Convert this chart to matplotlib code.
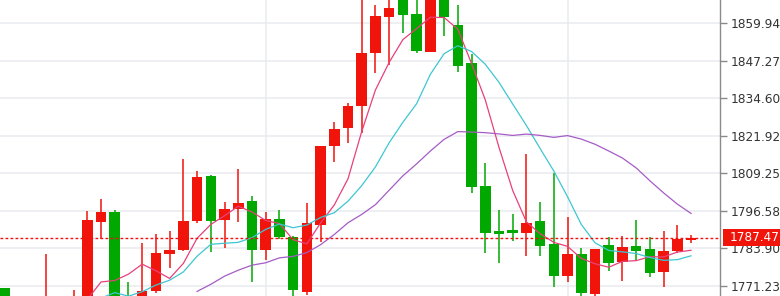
import numpy as np
import pandas as pd
import matplotlib
matplotlib.use('Agg')
from matplotlib import pyplot as plt
from matplotlib.patches import Rectangle
import matplotlib.transforms as mtransforms

# bar index; the first five bars sit left of the window and only feed the averages
idx = list(range(-5, 51))
opens = [1750, 1745, 1742, 1759, 1749,
         1770.4, 1756, 1760, 1758, 1764, 1748, 1753, 1792.88, 1796.06, 1767.6,
         1766, 1769.6, 1782.1, 1783.3, 1793.2, 1808.3, 1793.4, 1797.2, 1799.9, 1783.3,
         1793.7, 1787.8, 1769.2, 1791.8, 1818.6, 1824.4, 1832.1, 1849.8, 1862.2, 1869.5,
         1863.0, 1850.1, 1868.5, 1859.4, 1846.6, 1804.9, 1789.7, 1790.1, 1789.0, 1793.2,
         1785.2, 1774.5, 1781.9, 1768.4, 1785.1, 1779.4, 1784.7, 1783.5, 1776.0, 1783.0,
         1786.7]
highs = [1752, 1748, 1761, 1762, 1779,
         1770.4, 1762, 1767, 1781.86, 1766, 1769.8, 1796.6, 1800.65, 1796.8, 1772.6,
         1785.6, 1788.7, 1789.8, 1814.1, 1810.1, 1808.6, 1799.4, 1810.7, 1801.6, 1796.2,
         1796.8, 1788.0, 1799.3, 1818.6, 1826.7, 1833.1, 1872.0, 1866.1, 1869.5, 1871.0,
         1869.0, 1872.0, 1870.0, 1866.1, 1849.6, 1812.8, 1796.8, 1795.4, 1815.8, 1799.6,
         1809.2, 1794.6, 1783.9, 1783.8, 1787.8, 1788.0, 1793.4, 1787.8, 1789.8, 1791.8,
         1788.4]
lows = [1741, 1738, 1740, 1746, 1747,
        1752, 1752, 1757, 1755, 1752, 1746, 1751, 1787.1, 1766, 1763,
        1764, 1768.6, 1777.1, 1783.0, 1792.5, 1782.7, 1783.9, 1792.9, 1772.6, 1779.9,
        1786.9, 1767.0, 1768.0, 1786.1, 1813.0, 1819.6, 1822.8, 1843.2, 1845.8, 1856.8,
        1850.0, 1850.1, 1855.6, 1843.6, 1802.7, 1782.2, 1779.0, 1786.4, 1781.3, 1781.3,
        1770.7, 1772.6, 1767.0, 1767.0, 1776.3, 1772.9, 1779.9, 1774.1, 1770.7, 1782.2,
        1785.6]
closes = [1745, 1742, 1759, 1749, 1777.7,
          1754.5, 1760, 1766.7, 1765, 1755, 1752.8, 1793.45, 1796.26, 1767.5, 1765.7,
          1769.6, 1782.4, 1783.2, 1793.0, 1808.1, 1793.0, 1797.2, 1799.2, 1783.3, 1793.7,
          1787.8, 1769.8, 1792.3, 1818.57, 1824.2, 1832.1, 1849.8, 1862.4, 1865.2, 1862.7,
          1850.6, 1869.0, 1862.0, 1845.6, 1804.7, 1789.2, 1788.7, 1789.0, 1792.5, 1784.7,
          1774.5, 1781.9, 1768.7, 1783.5, 1778.8, 1784.4, 1783.1, 1775.4, 1783.1, 1787.0,
          1787.47]
last_price = 1787.47
y_ticks = [1771.23, 1783.90, 1796.58, 1809.25, 1821.92, 1834.60, 1847.27, 1859.94]
x_grid = [19, 41]

UP = '#f0140a'
DOWN = '#00a800'
MA_COLORS = {5: '#e8407c', 10: '#3ec6d2', 20: '#a55cc6'}

df = pd.DataFrame({'o': opens, 'h': highs, 'l': lows, 'c': closes}, index=idx)
for n in MA_COLORS:
    df['ma%d' % n] = df['c'].rolling(n).mean()

fig = plt.figure(figsize=(7.8, 2.96), dpi=100)
ax = fig.add_axes([0, 0, 720 / 780, 1])
ax.set_facecolor('white')

colors = [UP if c >= o else DOWN for o, c in zip(df['o'], df['c'])]
ax.vlines(df.index, df['l'], df['h'], colors=colors, linewidth=1.1, zorder=2)
ax.bar(df.index, df['c'] - df['o'], bottom=df['o'], width=0.77,
       color=colors, linewidth=0, zorder=3)

for n, col in MA_COLORS.items():
    ax.plot(df.index, df['ma%d' % n], color=col, linewidth=0.9, zorder=4)

ax.axhline(last_price, color='#f01010', linewidth=1, dashes=(2, 1.6), zorder=5)

ax.set_xlim(-0.364, 52.11)
ax.set_ylim(1767.75, 1867.82)

ax.yaxis.tick_right()
ax.set_yticks(y_ticks)
ax.set_yticklabels(['%.2f' % v for v in y_ticks])
ax.tick_params(axis='y', direction='out', length=5, width=1, color='#8a8a8a',
               pad=3, labelsize=8.7, labelcolor='#333333')
ax.set_xticks(x_grid)
ax.tick_params(axis='x', length=0, labelbottom=False)
ax.grid(True, color='#e8ebef', linewidth=1.1, zorder=0)
ax.set_axisbelow(True)

for side in ('left', 'top', 'bottom'):
    ax.spines[side].set_visible(False)
ax.spines['right'].set_color('#8a8a8a')
ax.spines['right'].set_linewidth(1)

# last price tag on the axis
trans = mtransforms.blended_transform_factory(ax.transAxes, ax.transData)
tag_h = 17 * (ax.get_ylim()[1] - ax.get_ylim()[0]) / 296
ax.add_patch(Rectangle((723 / 720, last_price - tag_h / 2), 0.1, tag_h,
                       transform=trans, facecolor='#f0140a', edgecolor='none',
                       clip_on=False, zorder=10))
ax.text(730 / 720, last_price, '%.2f' % last_price, transform=trans,
        color='white', fontsize=8.7, va='center', ha='left', zorder=11,
        clip_on=False)

fig.savefig('out.png', dpi=100)
